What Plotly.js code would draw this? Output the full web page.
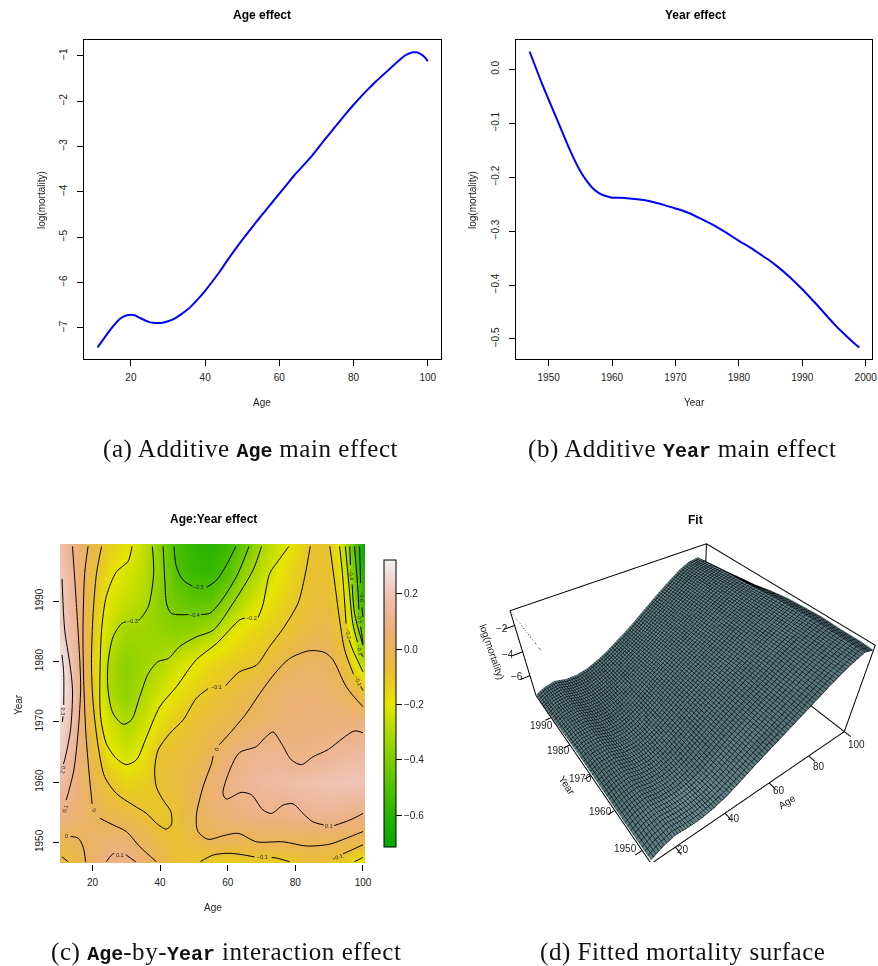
<!DOCTYPE html>
<html><head><meta charset="utf-8">
<script src="https://cdn.plot.ly/plotly-3.0.1.min.js"></script>
<style>html,body{margin:0;padding:0;background:#fff}</style></head>
<body><div id="chart" style="width:878px;height:966px"></div>
<script>
const W = 878, H = 966;
const ageEffectAges = [11,13,15,17,18,19,20,21,22,24,25,26,28,30,32,34,35,36,38,40,42,44,45,46,48,50,52,54,55,56,58,60,62,64,65,66,68,70,72,74,75,76,78,80,82,84,85,86,88,90,92,94,95,96,97,98,99,100];
const ageEffectValues = [-7.43,-7.2,-6.98,-6.8,-6.75,-6.72,-6.71,-6.72,-6.76,-6.84,-6.87,-6.885,-6.89,-6.85,-6.78,-6.67,-6.61,-6.54,-6.37,-6.18,-5.97,-5.75,-5.63,-5.51,-5.28,-5.06,-4.85,-4.64,-4.54,-4.44,-4.24,-4.04,-3.84,-3.64,-3.55,-3.46,-3.28,-3.08,-2.87,-2.67,-2.57,-2.47,-2.27,-2.08,-1.9,-1.73,-1.65,-1.57,-1.42,-1.27,-1.12,-.99,-.95,-.925,-.925,-.96,-1.02,-1.12];
const yearEffectYears = [1947,1949,1950,1951,1952,1953,1954,1955,1956,1957,1958,1959,1960,1962,1964,1965,1966,1968,1970,1972,1974,1975,1976,1978,1980,1982,1984,1985,1986,1988,1990,1992,1994,1995,1996,1998,1999];
const yearEffectValues = [.033,-.028,-.056,-.084,-.112,-.14,-.166,-.189,-.207,-.221,-.23,-.235,-.238,-.2385,-.241,-.2425,-.2445,-.251,-.258,-.266,-.277,-.283,-.289,-.303,-.318,-.332,-.348,-.356,-.365,-.385,-.408,-.433,-.459,-.472,-.484,-.506,-.516];

const gridAges = [11,15,20,25,30,35,40,45,50,55,60,65,70,75,80,85,90,95,100];
const gridYears = [1947,1950,1955,1960,1965,1970,1975,1980,1985,1990,1995,1999];
const y1947 = [-.05,-.04,.03,.09,.1,.05,-.02,-.08,-.09,-.11,-.12,-.11,-.1,-.11,-.09,-.06,-.08,-.12,-.19];
const y1950 = [-.01,-.005,.03,.06,.06,.01,-.05,-.08,-.05,-.01,-.01,-.01,.0,.0,-.002,-.005,-.003,-.01,-.03];
const y1955 = [.1,.06,.01,-.03,-.06,-.09,-.11,-.08,-.01,.04,.07,.09,.11,.1,.12,.13,.13,.12,.1];
const y1960 = [.16,.07,-.01,-.1,-.15,-.13,-.08,-.05,-.01,.05,.1,.13,.15,.16,.17,.18,.19,.2,.2];
const y1965 = [.22,.1,-.05,-.19,-.24,-.19,-.09,-.07,-.05,-.01,.05,.1,.12,.12,.09,.1,.12,.14,.15];
const y1970 = [.25,.14,-.08,-.24,-.3,-.25,-.17,-.12,-.08,-.05,-.02,.01,.03,.05,.06,.07,.07,.08,.08];
const y1975 = [.31,.15,-.1,-.3,-.36,-.3,-.24,-.18,-.14,-.1,-.07,-.04,.0,.04,.05,.05,.04,.01,-.08];
const y1980 = [.3,.14,-.11,-.3,-.37,-.33,-.3,-.25,-.2,-.16,-.13,-.11,-.09,-.04,.0,.02,.01,-.08,-.3];
const y1985 = [.23,.12,-.1,-.25,-.32,-.33,-.35,-.37,-.35,-.31,-.23,-.17,-.14,-.11,-.07,-.03,-.03,-.12,-.42];
const y1990 = [.22,.1,-.08,-.21,-.26,-.29,-.38,-.43,-.47,-.46,-.37,-.27,-.21,-.16,-.11,-.07,-.07,-.18,-.55];
const y1995 = [.2,.1,-.06,-.17,-.22,-.27,-.36,-.5,-.56,-.57,-.5,-.35,-.27,-.2,-.13,-.08,-.09,-.25,-.62];
const y1999 = [.17,.07,-.03,-.13,-.18,-.26,-.37,-.52,-.58,-.6,-.55,-.43,-.3,-.24,-.17,-.09,-.09,-.3,-.68];
const interaction = [y1947,y1950,y1955,y1960,y1965,y1970,y1975,y1980,y1985,y1990,y1995,y1999];

// contour lines: [age list, year list]
const contourLines = [
 [[11,11.5,11.5,null,11.3,11.1],[1981.1,1978,1972.8,null,1970.9,1970]],
 [[11,11.8,13.3,14.1,13.5,11.8,11.4],[1993.7,1985.2,1979.7,1975.3,1968.6,1963.7,1963]],
 [[14.1,15.1,16.3,16.5,15.8,14.5,12.8,12.2],[1999.1,1990.8,1979.7,1975.3,1968.6,1962,1958.1,1957]],
 [[18.7,17.7,17.2,17.4,18,19,19.9,null,22.2,26.1,30,34,38.9],[1999.1,1994.6,1985.2,1976.9,1968.6,1961.5,1956.4,null,1954,1952.9,1951.8,1949.3,1946.8]],
 [[22.7,21.2,20.2,19.7,20.2,21.7,23.6,27.1,32,36,38.9,41.7,43.3,43.2,40.9,38.9,38.4,39.4,42.9,46.8,50.7,54.2,null,59.4,63.5,68.5,72.4,76.4,80.8,82.8,84.4],[1999.1,1994.6,1988,1979.7,1973.1,1965.9,1960.9,1958.1,1956.2,1954.8,1953.2,1952.2,1952.9,1955.1,1957,1959.2,1962,1965.3,1968.1,1970.3,1973.9,1975.5,null,1976,1978.3,1979.4,1982.5,1985.5,1989.7,1994.1,1999.1]],
 [[31.7,30.5,27.1,24.1,22.7,22.2,22.4,24.1,27.1,30,33,36,39.9,44.8,50.7,56.7,63.5,65,null,69,70.4,72.4,74.4,78.1],[1999.1,1996.6,1994.9,1990.8,1985.2,1976.9,1970.9,1966.4,1963.9,1962.9,1963.7,1967.5,1972.5,1975.8,1980.3,1983,1986.9,1987.2,null,1987.3,1989.4,1994.6,1996.3,1999.1]],
 [[37.7,38.1,36.5,34,33.6,null,29.9,28.6,26.1,24.6,24.6,26.1,29.1,31.5,34,36.5,39.4,42.4,45.8,50.7,55.7,61.6,67.5,70],[1999.1,1994.6,1989.1,1987,1986.9,null,1986.6,1986.3,1984.1,1979.7,1975.3,1971.4,1969.6,1970.3,1974.2,1978,1980,1980.5,1982.5,1984.1,1985.2,1989.7,1995.2,1999.1]],
 [[40.9,41.4,41.9,43.3,48.4,null,52.1,54.7,57.6,62.6,66.3],[1999.1,1993.5,1989.7,1988,1987.8,null,1987.8,1988,1989.7,1994.1,1999.1]],
 [[44.1,44.8,46.8,49.6,null,53.7,56.7,59.6,62.4],[1999.1,1995.8,1993.5,1992.5,null,1992.3,1993.5,1996,1999.1]],
 [[100,95.1,91.1,88.7,84.2,78.3,73.9,69.5,65.5,60.6,57.5,null,55.7,55.2,52.7,50.7,51.2,54.2,58.6,63.1,68.5,76.4,83.3,90.1,95.1,100],[1972.5,1975.8,1980.3,1981.5,1981.8,1980.5,1978,1974.7,1971.4,1968.1,1966.2,null,1964.3,1963.1,1959.2,1954.3,1951.8,1950.5,1951.1,1951.5,1950.1,1950.1,1949.4,1949.7,1950.7,1951.8]],
 [[100,97.5,94.1,89.7,85.2,81.8,78.8,75.9,73.4,70.9,68.5,63.5,60.6,58.6,59.6,64,67,70.4,72.9,76.4,79.3,82.3,85.2,88.4,null,91.5,96.1,100],[1968.2,1968.5,1967.3,1965.4,1964.2,1962.9,1963.7,1966.4,1968.3,1967.3,1965.9,1964.9,1962,1958.1,1957.2,1958.3,1957.9,1955.4,1954.8,1956.2,1956.4,1954.8,1953.4,1952.9,null,1952.8,1953.7,1954.8]],
 [[13.6,15.8,17.2,18],[1951,1950.7,1949.3,1946.8]],
 [[11,12.8],[1947.6,1946.8]],
 [[24.1,25.6,26.4,null,29.8,30.5,32.8],[1946.8,1947.9,1948.2,null,1948,1947.7,1946.8]],
 [[51.9,55.7,60.6,67.9,null,73,74.4,78.3],[1946.8,1947.9,1948.2,1947.6,null,1947.5,1947.4,1946.8]],
 [[94.1,100],[1948.1,1949.6]],
 [[97.5,100],[1946.8,1947.5]],
 [[90.2,91.4,93.1,94.6,97.2,null,99.3,100],[1999.1,1994.1,1986.9,1981.9,1977.9,null,1975.9,1975.2]],
 [[93.1,94.1,95,null,95.9,97,100],[1999.1,1993.5,1986.3,null,1983.6,1981.9,1978.3]],
 [[94.8,95.8,97,98.4,null,99.5,100],[1999.1,1993,1986.3,1983.2,null,1981.3,1980.8]],
 [[96.1,96.3,null,96.8,97.5,100],[1999.1,1996,null,1992.8,1988,1982.7]],
 [[97.5,98.5,98.8,null,99.3,100],[1999.1,1991.9,1988.6,null,1985.8,1983]],
 [[99,99.3,null,99.7,100],[1999.1,1993,null,1989,1987.4]]
];
const contourLabels = [
 ["0.3",11.3,1971.7,90],["0.2",11.3,1962,100],["0.1",11.8,1955.6,-70],["0",20.5,1955.4,50],["0",12.3,1951,0],["0.1",28.1,1947.9,0],
 ["\u22120.1",56.6,1975.7,0],["\u22120.2",67,1987.2,0],["\u22120.3",31.8,1986.8,0],["\u22120.4",50.2,1987.8,0],["\u22120.5",51.5,1992.4,0],
 ["0",56.6,1965.4,-70],["0.1",90,1952.8,4],["\u22120.1",70.4,1947.5,0],["\u22120.1",92.6,1947.6,-20],
 ["\u22120.1",98.5,1976.7,65],["\u22120.2",95.6,1984.7,80],["\u22120.3",99,1981.9,75],["\u22120.4",96.6,1994.4,85],["\u22120.5",99,1987.2,80],["\u22120.6",99.5,1990.8,88]
];
const terrainScale = [[0,'#00A600'],[.125,'#2EB600'],[.25,'#63C600'],[.375,'#A0D600'],[.5,'#E6E600'],[.5625,'#E7CE1D'],[.625,'#E9BD3A'],[.6875,'#EAB458'],[.75,'#ECB176'],[.8125,'#EDB694'],[.875,'#EFC2B3'],[.9375,'#F1D6D3'],[1,'#F2F2F2']];

const ageTicksLine = [20,40,60,80,100];
const yearTicksLine = [1950,1960,1970,1980,1990,2000];
const logTicks = [-7,-6,-5,-4,-3,-2,-1];
const yearLogTicks = [-.5,-.4,-.3,-.2,-.1,0];
const heatYearTicks = [1950,1960,1970,1980,1990];
const cbTicks = [-.6,-.4,-.2,0,.2];
const surfZTicks = [-2,-4,-6];
const surfAgeTicks = [20,40,60,80,100];
const surfYearTicks = [1950,1960,1970,1980,1990];

const X = p => p / W, Y = p => 1 - p / H;
const TXT = '#222222', SANS = '"Liberation Sans", Arial, sans-serif', SERIF = '"Liberation Serif", serif';

function axisBase(extra){ return Object.assign({
  showgrid:false, zeroline:false, showline:true, linecolor:'#000', linewidth:1, mirror:true,
  ticks:'outside', ticklen:6, tickwidth:1, tickcolor:'#000',
  tickfont:{family:SANS,size:10,color:TXT}, ticklabelstandoff:3, tickmode:'array'}, extra); }

const zFit = gridYears.map((yr,i)=> gridAges.map((ag,j)=>
  ageEffectValues[ageEffectAges.indexOf(ag)] + yearEffectValues[yearEffectYears.indexOf(yr)] + interaction[i][j]));
const zLo = -7.82, zHi = -0.95;
const ageLo = 11, ageHi = 100, yrLo = 1947, yrHi = 1999;

const traces = [
 {type:'scatter',mode:'lines',x:ageEffectAges,y:ageEffectValues,xaxis:'x',yaxis:'y',line:{color:'#0000FF',width:2,shape:'spline'},hoverinfo:'skip'},
 {type:'scatter',mode:'lines',x:yearEffectYears,y:yearEffectValues,xaxis:'x2',yaxis:'y2',line:{color:'#0000FF',width:2,shape:'spline'},hoverinfo:'skip'},
 {type:'heatmap',x:gridAges,y:gridYears,z:interaction,xaxis:'x3',yaxis:'y3',zsmooth:'best',colorscale:terrainScale,zmin:-.715,zmax:.3225,hoverinfo:'skip',
  colorbar:{thicknessmode:'pixels',thickness:12,lenmode:'pixels',len:287,x:X(384),xanchor:'left',xpad:0,y:Y(703.5),yanchor:'middle',ypad:0,
    outlinecolor:'#000',outlinewidth:1,tickmode:'array',tickvals:cbTicks,ticktext:cbTicks.map(v=>v===0?'0.0':(v<0?'\u2212':'')+Math.abs(v).toFixed(1)),ticks:'outside',ticklen:6,tickcolor:'#000',tickfont:{family:SANS,size:10,color:TXT}}}
];
contourLines.forEach(([a,y])=>traces.push({type:'scatter',mode:'lines',x:a,y:y,xaxis:'x3',yaxis:'y3',line:{color:'#000',width:1,shape:'spline',smoothing:.8},hoverinfo:'skip',connectgaps:false}));

const c = '#7FA8B2';
traces.push({type:'surface',scene:'scene',x:gridAges,y:gridYears,z:zFit,surfacecolor:zFit.map(r=>r.map(()=>0.5)),cmin:0,cmax:1,colorscale:[[0,c],[1,c]],showscale:false,hoverinfo:'skip',
  lighting:{ambient:.65,diffuse:.7,specular:0,roughness:1,fresnel:0},lightposition:{x:-30000,y:-60000,z:90000},
  contours:{x:{show:true,color:'#000',width:1,start:11,end:100,size:1,highlight:false},y:{show:true,color:'#000',width:1,start:1947,end:1999,size:1,highlight:false},z:{show:false,highlight:false}}});

function seg3(xs,ys,zs,dash,w){traces.push({type:'scatter3d',scene:'scene',mode:'lines',x:xs,y:ys,z:zs,line:{color:'#000',width:w||2,dash:dash||'solid'},hoverinfo:'skip',showlegend:false});}
seg3([ageLo,ageHi,ageHi,ageLo,ageLo],[yrLo,yrLo,yrHi,yrHi,yrLo],[zLo,zLo,zLo,zLo,zLo]);
seg3([ageLo,ageLo,ageHi,ageHi],[yrHi,yrHi,yrHi,yrHi],[zLo,zHi,zHi,zLo]);
seg3([ageHi,ageHi,ageHi],[yrHi,yrLo,yrLo],[zHi,zHi,zLo]);
seg3([ageLo,ageLo],[yrHi,1979],[zHi,zHi],'dot',1);
surfAgeTicks.forEach(a=>seg3([a,a],[yrLo,yrLo-1.8],[zLo,zLo]));
surfYearTicks.forEach(y=>seg3([ageLo,ageLo-2.5],[y,y],[zLo,zLo]));
surfZTicks.forEach(z=>seg3([ageLo,ageLo-4],[yrHi,yrHi],[z,z]));

const ann = [];
function t(text,x,y,size,opt){ann.push(Object.assign({xref:'paper',yref:'paper',x:X(x),y:Y(y),xanchor:'center',yanchor:'middle',text:text,showarrow:false,font:{family:SANS,size:size,color:TXT}},opt||{}));}
const titleFont = {family:SANS,size:12,color:'#000'};
t('<b>Age effect</b>',262,15,12,{font:titleFont});
t('<b>Year effect</b>',695,15,12,{font:titleFont});
t('<b>Age:Year effect</b>',213,519,12,{font:titleFont});
t('<b>Fit</b>',695,520,12,{font:titleFont});
t('Age',262,403,10); t('Year',694,403,10); t('Age',213,907,10);
t('log(mortality)',42,200,10,{textangle:-90}); t('log(mortality)',473,200,10,{textangle:-90}); t('Year',18,705,10,{textangle:-90});
[['20',683.3,849.3],['40',734.3,818.3],['60',779.3,790.7],['80',819.3,766],['100',856,744.3],
 ['1950',625,848.3],['1960',600,811.7],['1970',580,778.3],['1980',558.3,750.7],['1990',541.7,725.7],
 ['\u22122',501.7,628.3],['\u22124',508.3,654],['\u22126',516.7,676.7]].forEach(([s,x,y])=>t(s,x,y,10));
t('Age',787.3,801.7,10,{textangle:-32}); t('Year',567.3,785,10,{textangle:56}); t('log(mortality)',491.7,651.7,10,{textangle:71});
const capMono = s=>'<span style="font-family:\'Liberation Mono\',monospace;font-weight:bold;font-size:20px">'+s+'</span>';
const capFont = {family:SERIF,size:25,color:'#111'};
const cap = s=>'<span style="letter-spacing:0.55px">'+s+'</span>';
t(cap('(a) Additive ')+capMono('Age')+cap(' main effect'),250,449,25,{font:capFont});
t(cap('(b) Additive ')+capMono('Year')+cap(' main effect'),682,449,25,{font:capFont});
t(cap('(c) ')+capMono('Age')+cap('-by-')+capMono('Year')+cap(' interaction effect'),226,952,25,{font:capFont});
t(cap('(d) Fitted mortality surface'),682,952,25,{font:capFont});
contourLabels.forEach(([txt,a,y,ang])=>ann.push({xref:'x3',yref:'y3',x:a,y:y,text:txt,showarrow:false,textangle:ang,font:{family:SANS,size:5.5,color:'#222'},xanchor:'center',yanchor:'middle'}));

const hiddenAxis = r => ({showgrid:false,zeroline:false,showline:false,showticklabels:false,ticks:'',showbackground:false,showspikes:false,title:{text:''},range:r});
const layout = {
 width:W,height:H,margin:{l:0,r:0,t:0,b:0,pad:0},paper_bgcolor:'#fff',plot_bgcolor:'#fff',showlegend:false,font:{family:SANS},
 xaxis:axisBase({domain:[X(84.3),X(441)],range:[7.44,103.56],anchor:'y',tickvals:ageTicksLine}),
 yaxis:axisBase({domain:[Y(359.3),Y(40.3)],range:[-7.69,-.66],anchor:'x',tickvals:logTicks,tickangle:-90,ticklabelstandoff:6}),
 xaxis2:axisBase({domain:[X(516.3),X(872.3)],range:[1944.9,2001.04],anchor:'y2',tickvals:yearTicksLine}),
 yaxis2:axisBase({domain:[Y(359.3),Y(40.3)],range:[-.5378,.0538],anchor:'x2',tickvals:yearLogTicks,tickangle:-90,ticklabelstandoff:6,tickformat:'.1f'}),
 xaxis3:axisBase({domain:[X(60),X(365)],range:[10.4,100.6],anchor:'y3',tickvals:ageTicksLine,showline:false,mirror:false}),
 yaxis3:axisBase({domain:[Y(863.5),Y(544)],range:[1946.5,1999.5],anchor:'x3',tickvals:heatYearTicks,tickangle:-90,ticklabelstandoff:6,showline:false,mirror:false}),
 scene:{domain:{x:[X(490),1],y:[Y(862),Y(485)]},
  xaxis:hiddenAxis([5,106]),yaxis:hiddenAxis([1944,2002]),zaxis:hiddenAxis([-8.2,-.55]),
  aspectmode:'manual',aspectratio:{x:1.135,y:1.115,z:.534},
  camera:{eye:{x:-.83,y:-1.145,z:1.275},center:{x:0,y:0,z:0},up:{x:0,y:0,z:1},projection:{type:'perspective'}}},
 annotations:ann
};
Plotly.newPlot('chart',traces,layout,{displayModeBar:false});
</script></body></html>
